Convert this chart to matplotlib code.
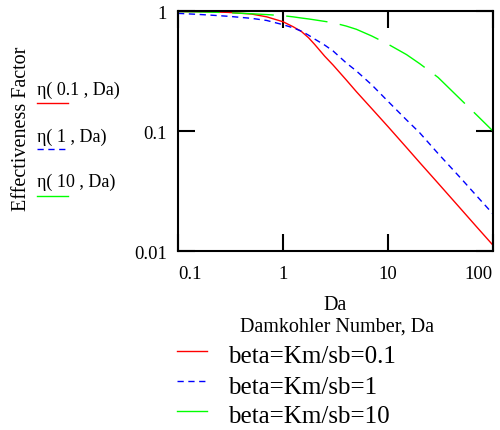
import matplotlib
matplotlib.use("Agg")
import matplotlib.pyplot as plt
from matplotlib.lines import Line2D

# values (log-log effectiveness factor curves)
da = [0.1, 0.15, 0.2, 0.3, 0.5, 0.7, 1, 1.25, 1.5, 1.75, 2, 2.5, 3, 4, 5, 7, 10, 15, 20, 30, 50, 70, 100]
eta_01 = [0.99, 0.988, 0.985, 0.975, 0.945, 0.895, 0.815, 0.74, 0.675, 0.60, 0.528, 0.42, 0.355,
          0.267, 0.213, 0.154, 0.109, 0.073, 0.0548, 0.0368, 0.0222, 0.0159, 0.0112]
eta_1 = [0.957, 0.94, 0.926, 0.905, 0.87, 0.835, 0.77, 0.725, 0.68, 0.63, 0.585, 0.52, 0.465,
         0.37, 0.317, 0.243, 0.177, 0.124, 0.097, 0.065, 0.040, 0.0288, 0.0204]
eta_10 = [0.99, 0.985, 0.98, 0.97, 0.95, 0.935, 0.915, 0.895, 0.875, 0.86, 0.845, 0.82, 0.80,
          0.75, 0.705, 0.62, 0.53, 0.434, 0.365, 0.28, 0.181, 0.136, 0.10]

x_ticks = [0.1, 1, 10, 100]
x_labels = ["0.1", "1", "10", "100"]
y_ticks = [0.01, 0.1, 1]
y_labels = ["0.01", "0.1", "1"]

curve_names = ["η( 0.1 , Da)", "η( 1 , Da)", "η( 10 , Da)"]
legend_names = ["beta=Km/sb=0.1", "beta=Km/sb=1", "beta=Km/sb=10"]

plt.rcParams['font.family'] = ['Liberation Serif', 'DejaVu Serif']

fig = plt.figure(figsize=(5, 4.31), dpi=100)
ax = fig.add_axes([0.356, 0.415, 0.63, 0.557])

ax.plot(da, eta_01, color='#ff0000', lw=1.0)
ax.plot(da, eta_1, color='#0000ff', lw=1.0, dashes=(4.5, 3.3))
ax.plot(da, eta_10, color='#00ff00', lw=1.0, dashes=(30, 9))

ax.set_xscale('log')
ax.set_yscale('log')
ax.set_xlim(0.1, 100)
ax.set_ylim(0.01, 1)
ax.minorticks_off()
ax.set_xticks(x_ticks)
ax.set_xticklabels(x_labels)
ax.set_yticks(y_ticks)
ax.set_yticklabels(y_labels)
ax.tick_params(direction='in', length=12, width=1.5, labelsize=13.5, pad=8,
               top=True, right=True)
ax.tick_params(axis='x', pad=10)
for s in ax.spines.values():
    s.set_linewidth(1.5)

xl = ax.get_xticklabels()
xl[0].set_horizontalalignment('left')
xl[-1].set_horizontalalignment('right')

fig.text(0.044, 0.70, "Effectiveness Factor", rotation=90, ha='center',
         va='center', fontsize=14.5)

cols = ['#ff0000', '#0000ff', '#00ff00']
styles = ['-', (0, (4.5, 3.3)), '-']
name_y = [1 - 90 / 431, 1 - 137 / 431, 1 - 182 / 431]
line_y = [1 - 104 / 431, 1 - 150 / 431, 1 - 197 / 431]
for nm, c, st, ty, ly in zip(curve_names, cols, styles, name_y, line_y):
    fig.text(0.074, ty, nm, ha='left', va='center', fontsize=13)
    fig.add_artist(Line2D([0.074, 0.136], [ly, ly], color=c, lw=1.0,
                          linestyle=st, transform=fig.transFigure))

fig.text(0.67, 1 - 306 / 431, "Da", ha='center', va='center', fontsize=14.5)
fig.text(0.674, 1 - 327 / 431, "Damkohler Number, Da", ha='center',
         va='center', fontsize=14.5)

leg_text_y = [1 - 357 / 431, 1 - 388 / 431, 1 - 417 / 431]
leg_line_y = [1 - 352 / 431, 1 - 382 / 431, 1 - 412 / 431]
for nm, c, st, ty, ly in zip(legend_names, cols, styles, leg_text_y, leg_line_y):
    fig.text(0.456, ty, nm, ha='left', va='center', fontsize=18)
    fig.add_artist(Line2D([0.354, 0.414], [ly, ly], color=c, lw=1.0,
                          linestyle=st, transform=fig.transFigure))

fig.savefig("out.png", dpi=100)
